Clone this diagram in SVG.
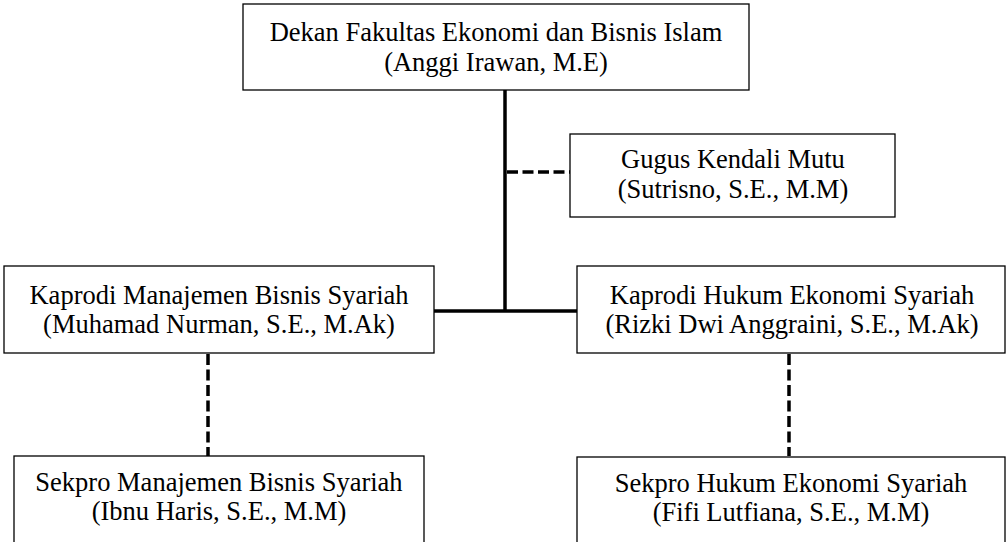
<svg xmlns="http://www.w3.org/2000/svg" width="1008" height="542" viewBox="0 0 1008 542">
<style>
.box{fill:#fff;stroke:#000;stroke-width:1.3}
text{font-family:"Liberation Serif","Times New Roman",serif;font-size:26.5px;fill:#000;text-anchor:middle}
.solid{stroke:#000;stroke-width:3.5;fill:none}
.dash{stroke:#000;stroke-width:3.5;fill:none;stroke-dasharray:11 4.5}
</style>
<rect width="1008" height="542" fill="#fff"/>
<g id="connectors">
<line class="solid" x1="505" y1="90" x2="505" y2="312"/>
<line class="solid" x1="434" y1="311" x2="577" y2="311"/>
<line class="dash" x1="507" y1="172" x2="570" y2="172"/>
<line class="dash" x1="208" y1="354" x2="208" y2="456"/>
<line class="dash" x1="789" y1="354" x2="789" y2="456"/>
</g>
<g id="dekan">
<rect class="box" x="243" y="4" width="506" height="86"/>
<text x="496" y="41">Dekan Fakultas Ekonomi dan Bisnis Islam</text>
<text x="496" y="71">(Anggi Irawan, M.E)</text>
</g>
<g id="gkm">
<rect class="box" x="570" y="134" width="325" height="83"/>
<text x="733" y="168">Gugus Kendali Mutu</text>
<text x="733" y="198">(Sutrisno, S.E., M.M)</text>
</g>
<g id="kaprodi-mbs">
<rect class="box" x="4" y="266" width="430" height="87"/>
<text x="219" y="304">Kaprodi Manajemen Bisnis Syariah</text>
<text x="219" y="333">(Muhamad Nurman, S.E., M.Ak)</text>
</g>
<g id="kaprodi-hes">
<rect class="box" x="577" y="266" width="428" height="87"/>
<text x="792" y="304">Kaprodi Hukum Ekonomi Syariah</text>
<text x="792" y="333">(Rizki Dwi Anggraini, S.E., M.Ak)</text>
</g>
<g id="sekpro-mbs">
<rect class="box" x="14" y="456" width="410" height="100"/>
<text x="219" y="491">Sekpro Manajemen Bisnis Syariah</text>
<text x="219" y="520">(Ibnu Haris, S.E., M.M)</text>
</g>
<g id="sekpro-hes">
<rect class="box" x="577" y="457" width="428" height="100"/>
<text x="791" y="492">Sekpro Hukum Ekonomi Syariah</text>
<text x="791" y="521">(Fifi Lutfiana, S.E., M.M)</text>
</g>
</svg>
